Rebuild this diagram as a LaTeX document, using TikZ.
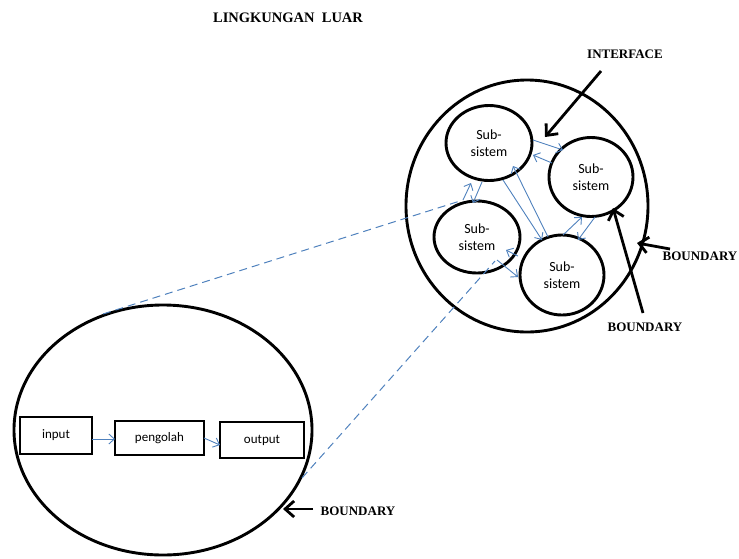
\documentclass[tikz,border=0pt]{standalone}
\usepackage{fontspec}
\setmainfont{Liberation Serif}
\newfontfamily\calfnt{Carlito}
\usetikzlibrary{shapes.geometric,arrows.meta}
\definecolor{lblue}{RGB}{79,129,189}
\tikzset{
  bnd/.style={draw=black,line width=2.9pt,ellipse,inner sep=0pt},
  sub/.style={draw=black,line width=2.9pt,ellipse,inner sep=0pt,align=center,font=\calfnt\fontsize{14}{17}\selectfont},
  pbox/.style={draw=black,line width=2.9pt,rectangle,inner sep=0pt,font=\calfnt\fontsize{13}{15}\selectfont},
  barr/.style={draw=lblue,line width=0.9pt,-{Straight Barb[length=5.5pt,width=10pt]}},
  darr/.style={draw=black,line width=2.8pt,-{Straight Barb[length=9pt,width=16pt]}},
  dline/.style={draw=lblue,line width=1pt,dash pattern=on 8pt off 5pt},
  lbl/.style={font=\bfseries\fontsize{13}{15}\selectfont,inner sep=0pt}
}
\begin{document}
\begin{tikzpicture}[x=1pt,y=-1pt]
\useasboundingbox (0,0) rectangle (739,558);
% title
\node[lbl,font=\bfseries\fontsize{14.5}{16}\selectfont] (title) at (288,18) {LINGKUNGAN\ \ LUAR};
% big boundary circle
\node[bnd,minimum width=242pt,minimum height=252pt] (bigc) at (527,206) {};
% subsystems
\node[sub,minimum width=86pt,minimum height=75pt] (c1) at (489,143) {Sub-\\sistem};
\node[sub,minimum width=84pt,minimum height=79pt] (c2) at (591,177) {Sub-\\sistem};
\node[sub,minimum width=86pt,minimum height=72pt] (c3) at (477,237) {Sub-\\sistem};
\node[sub,minimum width=84pt,minimum height=80pt] (c4) at (562,275) {Sub-\\sistem};
% lower system ellipse
\node[bnd,minimum width=298pt,minimum height=250pt] (ell) at (163,430) {};
\node[pbox,minimum width=72pt,minimum height=37pt] (inp) at (56,435.5) {input};
\node[pbox,minimum width=89pt,minimum height=34pt] (proc) at (159.5,438) {pengolah};
\node[pbox,minimum width=84pt,minimum height=36pt] (outp) at (262,440) {output};
% coordinates for blue arrows
\coordinate (a12s) at (533,140); \coordinate (a12e) at (563,150);
\coordinate (a21s) at (552,163); \coordinate (a21e) at (533,155);
\coordinate (a14s) at (503,180); \coordinate (a14e) at (542,240);
\coordinate (a41s) at (548,237); \coordinate (a41e) at (513,166);
\coordinate (a42s) at (563,235); \coordinate (a42e) at (582,217);
\coordinate (a24s) at (595,217); \coordinate (a24e) at (578,240);
\coordinate (a31s) at (463,200); \coordinate (a31e) at (471,183);
\coordinate (a13s) at (482,182); \coordinate (a13e) at (473,203);
\coordinate (a34s) at (497,260); \coordinate (a34e) at (518,277);
\coordinate (a43s) at (518,256); \coordinate (a43e) at (506,250);
\draw[barr] (a12s) -- (a12e);
\draw[barr] (a21s) -- (a21e);
\draw[barr] (a14s) -- (a14e);
\draw[barr] (a41s) -- (a41e);
\draw[barr] (a42s) -- (a42e);
\draw[barr] (a24s) -- (a24e);
\draw[barr] (a31s) -- (a31e);
\draw[barr] (a13s) -- (a13e);
\draw[barr] (a34s) -- (a34e);
\draw[barr] (a43s) -- (a43e);
% dashed zoom lines
\coordinate (d1s) at (103,314); \coordinate (d1e) at (460,201);
\coordinate (d2s) at (302,478); \coordinate (d2e) at (495,261);
\draw[dline] (d1s) -- (d1e);
\draw[dline] (d2s) -- (d2e);
% process arrows
\coordinate (p1s) at (92,439); \coordinate (p1e) at (115,439);
\coordinate (p2s) at (204,438); \coordinate (p2e) at (220,445);
\draw[barr] (p1s) -- (p1e);
\draw[barr] (p2s) -- (p2e);
% labels
\node[lbl] (iface) at (625,54) {INTERFACE};
\node[lbl] (bnd1) at (700,256) {BOUNDARY};
\node[lbl] (bnd2) at (645,327) {BOUNDARY};
\node[lbl] (bnd3) at (358,511) {BOUNDARY};
\coordinate (i1) at (601,71); \coordinate (i2) at (545,137);
\coordinate (b1s) at (670,249); \coordinate (b1e) at (637,243);
\coordinate (b2s) at (643,313); \coordinate (b2e) at (613,208);
\coordinate (b3s) at (313,509); \coordinate (b3e) at (283,509);
\draw[darr] (i1) -- (i2);
\draw[darr] (b1s) -- (b1e);
\draw[darr] (b2s) -- (b2e);
\draw[darr] (b3s) -- (b3e);
\end{tikzpicture}
\end{document}
